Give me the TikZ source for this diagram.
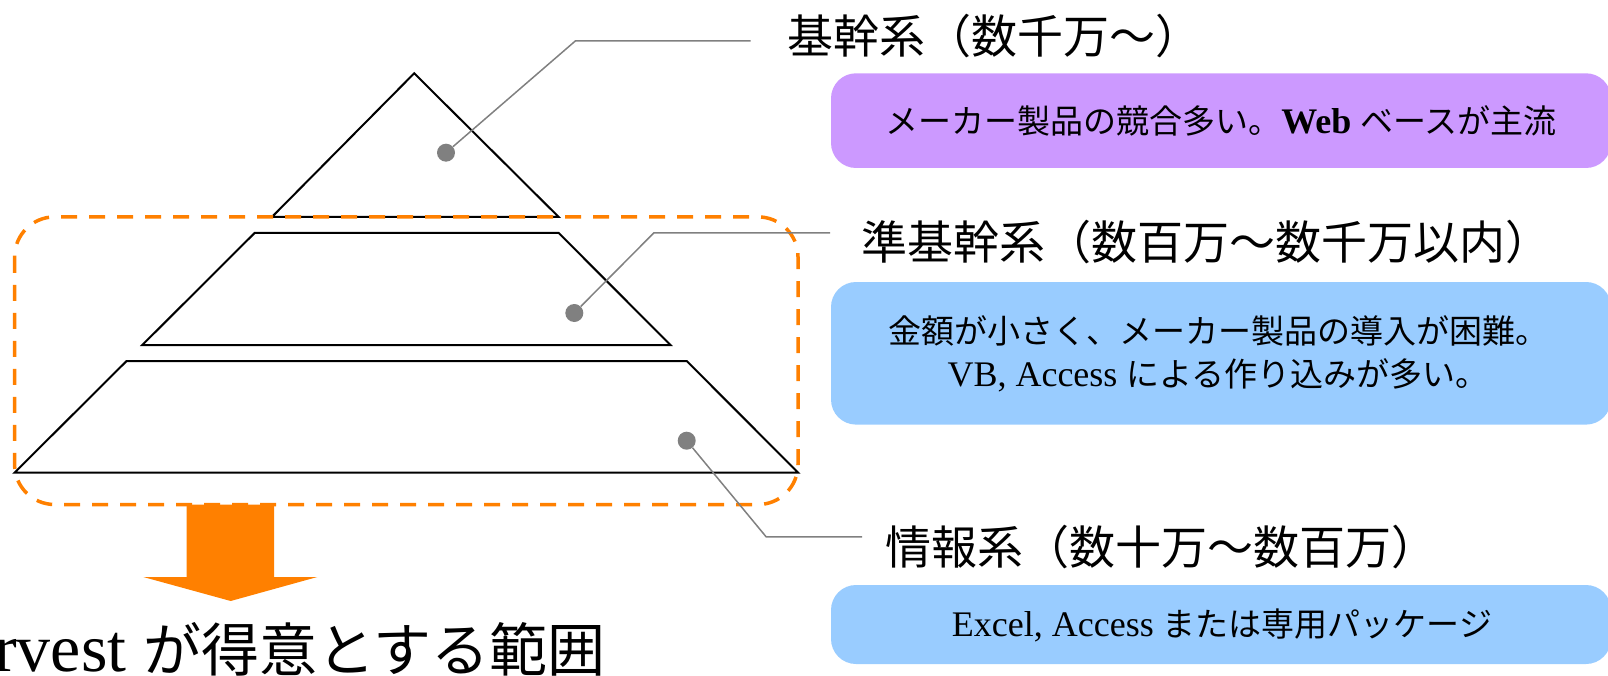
\documentclass[tikz,border=0pt]{standalone}
\usepackage{fontspec}
\setmainfont{Liberation Serif}
\newfontfamily\jp{Noto Sans CJK JP}
\newcommand\jbox[1]{{\fontsize{33}{43}\selectfont\jp #1}}
\definecolor{orng}{HTML}{FF8000}
\definecolor{purp}{HTML}{CC99FF}
\definecolor{lblue}{HTML}{99CCFF}
\definecolor{dgray}{HTML}{808080}
\tikzset{
  layer/.style={draw=black, line width=2pt, line join=miter},
  dotnode/.style={circle, fill=dgray, minimum size=18pt, inner sep=0pt},
  leader/.style={draw=dgray, line width=1.5pt},
  title/.style={anchor=west, inner sep=0pt, font=\fontsize{46}{50}\selectfont\jp},
  infobox/.style={fill=#1, rounded corners=25pt},
  boxtext/.style={align=center, inner sep=0pt, font=\fontsize{36}{43}\selectfont},
  scopebox/.style={draw=orng, line width=3.5pt, dash pattern=on 16pt off 12pt, rounded corners=40pt}
}
\begin{document}
\begin{tikzpicture}[x=1pt, y=-1pt]
\useasboundingbox (0,0) rectangle (1608,676);
\clip (0,0) rectangle (1608,676);
% pyramid layers
\draw[layer] (414.2,73.3) -- (558.6,216.9) -- (272,216.9) -- cycle;
\draw[layer] (254.7,232.9) -- (558.6,232.9) -- (670.5,345) -- (142.3,345) -- cycle;
\draw[layer] (126.6,361) -- (686.7,361) -- (798.1,472.6) -- (14.6,472.6) -- cycle;
% range
\draw[scopebox] (14.6,216.9) rectangle (798,504.5);
% arrow
\fill[orng] (186.7,504.5) -- (274,504.5) -- (274,577) -- (317.3,577) -- (230.7,601) -- (143.3,577) -- (186.7,577) -- cycle;
% dots
\node[dotnode] (d1) at (446,152.7) {};
\node[dotnode] (d2) at (574.3,313) {};
\node[dotnode] (d3) at (686.7,440.7) {};
\coordinate (e1) at (575.3,41);
\coordinate (f1) at (750.5,41);
\coordinate (e2) at (653.8,232.9);
\coordinate (f2) at (830,232.9);
\coordinate (e3) at (766.2,536.9);
\coordinate (f3) at (862,536.9);
\draw[leader] (d1) -- (e1) -- (f1);
\draw[leader] (d2) -- (e2) -- (f2);
\draw[leader] (d3) -- (e3) -- (f3);
% titles
\node[title] (t1) at (787,36.5) {基幹系（数千万〜）};
\node[title] (t2) at (861,242.5) {準基幹系（数百万〜数千万以内）};
\node[title] (t3) at (885,547.5) {情報系（数十万〜数百万）};
% boxes
\path[infobox=purp] (831,73.3) rectangle (1611,168);
\node[boxtext] (b1) at (1221,121) {\jbox{メーカー製品の競合多い。}\textbf{Web} \jbox{ベースが主流}};
\path[infobox=lblue] (831,282) rectangle (1611,424.6);
\node[boxtext] (b2) at (1218,354) {\jbox{金額が小さく、メーカー製品の導入が困難。}\\VB, Access \jbox{による作り込みが多い。}};
\path[infobox=lblue] (831,585) rectangle (1611,664);
\node[boxtext] (b3) at (1222,625) {Excel, Access \jbox{または専用パッケージ}};
% bottom label
\node[anchor=base west, inner sep=0pt, font=\fontsize{68}{72}\selectfont] (lbl) at (-6,671.7) {rvest {\fontsize{58}{64}\selectfont\jp が得意とする範囲}};
\end{tikzpicture}
\end{document}
